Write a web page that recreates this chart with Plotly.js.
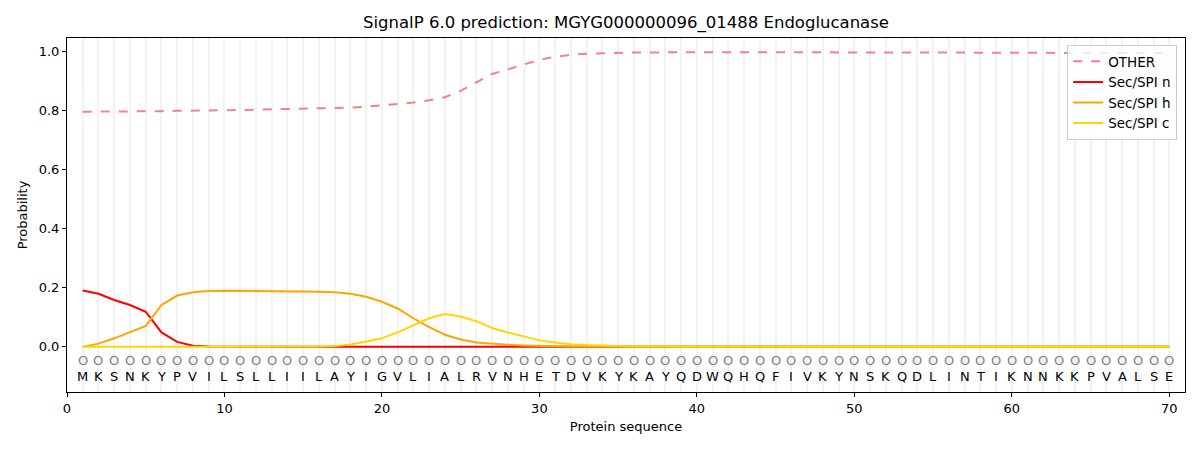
<!DOCTYPE html>
<html>
<head>
<meta charset="utf-8">
<script src="https://cdn.plot.ly/plotly-3.0.1.min.js"></script>
<style>
body { margin: 0; background: #fff; }
#chart { width: 1200px; height: 450px; }
</style>
</head>
<body>
<div id="chart"></div>
<script>
// residues of the protein, one per position
seq = "MKSNKYPVILSLLIILAYIGVLIALRVNHETDVKYKAYQDWQHQFIVKYNSKQDLINTIKNNKKPVALSE".split("");
pos = [];
for (var i = 0; i < seq.length; i++) { pos.push(i + 1); }

// values, positions 1..70
other = [0.797,0.797,0.797,0.798,0.798,0.799,0.800,0.800,0.801,0.802,
         0.803,0.804,0.805,0.806,0.807,0.808,0.809,0.811,0.814,0.818,
         0.822,0.828,0.836,0.846,0.868,0.897,0.925,0.941,0.956,0.973,
         0.983,0.990,0.994,0.996,0.997,0.998,0.998,0.999,0.999,0.999,
         0.999,0.999,0.999,0.999,0.999,0.999,0.999,0.999,0.999,0.999,
         0.999,0.999,0.999,0.999,0.999,0.999,0.999,0.998,0.998,0.998,
         0.997,0.997,0.996,0.996,0.996,0.996,0.996,0.996,0.996,0.996];
secN = [0.191,0.180,0.159,0.142,0.119,0.049,0.017,0.004,0.001,0,
        0,0,0,0,0,0,0,0,0,0,
        0,0,0,0,0,0,0,0,0,0,
        0,0,0,0,0,0,0,0,0,0,
        0,0,0,0,0,0,0,0,0,0,
        0,0,0,0,0,0,0,0,0,0,
        0,0,0,0,0,0,0,0,0,0];
secH = [0.000,0.011,0.029,0.049,0.071,0.142,0.174,0.185,0.189,0.190,
        0.190,0.190,0.189,0.189,0.188,0.187,0.185,0.180,0.170,0.153,
        0.130,0.097,0.067,0.041,0.025,0.015,0.010,0.007,0.005,0.003,
        0.002,0.001,0.001,0.001,0,0,0,0,0,0,
        0,0,0,0,0,0,0,0,0,0,
        0,0,0,0,0,0,0,0,0,0,
        0,0,0,0,0,0,0,0,0,0];
secC = [0,0,0,0,0,0,0,0,0,0,
        0,0,0,0,0,0.001,0.003,0.008,0.018,0.029,
        0.049,0.074,0.097,0.111,0.103,0.087,0.064,0.049,0.035,0.022,
        0.015,0.009,0.006,0.004,0.002,0.001,0.001,0,0,0,
        0,0,0,0,0,0,0,0,0,0,
        0,0,0,0,0,0,0,0,0,0,
        0,0,0,0,0,0,0,0,0,0];

function makeChart() {
    var font = "DejaVu Sans, sans-serif";
    var data = [
        {x: pos, y: other, name: "OTHER", type: "scatter", mode: "lines",
         line: {color: "rgba(240,100,100,0.8)", width: 2, dash: "dash"}},
        {x: pos, y: secN, name: "Sec/SPI n", type: "scatter", mode: "lines",
         line: {color: "#ff0000", width: 2}},
        {x: pos, y: secH, name: "Sec/SPI h", type: "scatter", mode: "lines",
         line: {color: "#ffa500", width: 2}},
        {x: pos, y: secC, name: "Sec/SPI c", type: "scatter", mode: "lines",
         line: {color: "#ffd700", width: 2}}
    ];

    var notes = [];
    for (var i = 0; i < seq.length; i++) {
        notes.push({x: pos[i], y: -0.046, text: "O", showarrow: false,
                    font: {family: font, size: 13, color: "#808080"}});
        notes.push({x: pos[i], y: -0.100, text: seq[i], showarrow: false,
                    font: {family: font, size: 13, color: "#000"}});
    }

    var layout = {
        width: 1200, height: 450,
        margin: {l: 67, r: 15, t: 38, b: 58},
        paper_bgcolor: "#fff", plot_bgcolor: "#fff",
        font: {family: font, size: 13, color: "#000"},
        title: {text: "SignalP 6.0 prediction: MGYG000000096_01488 Endoglucanase",
                font: {family: font, size: 16.5}, xref: "paper", x: 0.5, xanchor: "center",
                yref: "container", y: 0.95, yanchor: "middle"},
        xaxis: {
            range: [0, 71], tick0: 0, dtick: 10,
            showgrid: true, gridcolor: "#f2f2f2", gridwidth: 2,
            minor: {tick0: 0, dtick: 1, showgrid: true, gridcolor: "#f2f2f2", gridwidth: 2},
            zeroline: false, showline: true, mirror: true, linecolor: "#000", linewidth: 1,
            ticks: "outside", ticklen: 4, tickcolor: "#000",
            title: {text: "Protein sequence", font: {family: font, size: 13}, standoff: 7}
        },
        yaxis: {
            range: [-0.153, 1.047], tick0: 0, dtick: 0.2, tickformat: ".1f",
            showgrid: false, zeroline: false, showline: true, mirror: true,
            linecolor: "#000", linewidth: 1,
            ticks: "outside", ticklen: 4, tickcolor: "#000",
            title: {text: "Probability", font: {family: font, size: 13}, standoff: 8}
        },
        legend: {x: 0.993, y: 0.98, xanchor: "right", yanchor: "top",
                 bgcolor: "rgba(255,255,255,0.8)", bordercolor: "#cccccc", borderwidth: 1,
                 font: {family: font, size: 13.5}},
        annotations: notes,
        showlegend: true
    };
    Plotly.newPlot("chart", data, layout, {displayModeBar: false});
}
makeChart();
</script>
</body>
</html>
